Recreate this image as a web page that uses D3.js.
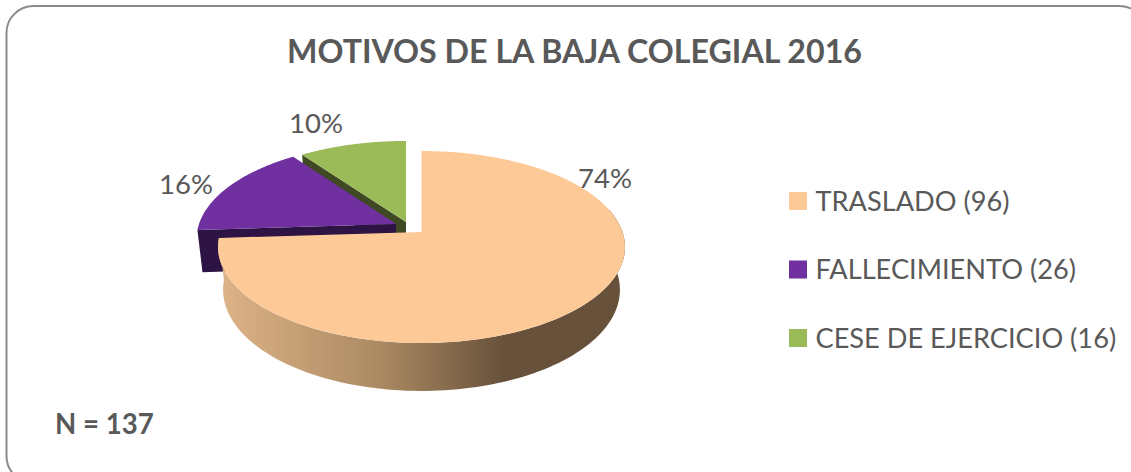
<!DOCTYPE html>
<html><head><meta charset="utf-8">
<script src="https://cdn.jsdelivr.net/npm/d3@7/dist/d3.min.js"></script>
<style>html,body{margin:0;background:#fff;overflow:hidden}svg{display:block}text{font-family:Lato,sans-serif}</style>
</head><body><svg id="c" width="1131" height="472"></svg>
<script>
const categories = ["TRASLADO (96)","FALLECIMIENTO (26)","CESE DE EJERCICIO (16)"];
const percents = [74,16,10];
const percentLabels = ["74%","16%","10%"];
const topColors = ["#fdc997","#7030a0","#9bbb59"];
const wallColors = ["#67513b","#2e1445","#3f4a24"];
const titleText = "MOTIVOS DE LA BAJA COLEGIAL 2016";
const noteText = "N = 137";

const svg = d3.select("#c");
svg.append("rect").attr("x",6.5).attr("y",6).attr("width",1140).attr("height",477).attr("rx",27)
  .attr("fill","#fff").attr("stroke","#8c8c8c").attr("stroke-width",2);

const defs = svg.append("defs");
const grad = defs.append("linearGradient").attr("id","wall").attr("gradientUnits","userSpaceOnUse")
  .attr("x1",225).attr("x2",625).attr("y1",0).attr("y2",0);
[[0,"#dcb287"],[0.4,"#a98861"],[0.7,"#67513b"],[1,"#67513b"]].forEach(s=>
  grad.append("stop").attr("offset",s[0]).attr("stop-color",s[1]));

// perspective pie projection
const k = 0.156;
const layout = [
  {x:421.5,y:232,b:201,a:93.7,bb:196,ba:98.7,depth:42},
  {x:396,y:224,b:197,a:93.7,bb:192,ba:98.7,depth:42},
  {x:406,y:222,b:199,a:93.7,bb:194,ba:98.7,depth:40}
];
const proj = (g,ang,low)=>{
  const u=Math.sin(ang), v=-Math.cos(ang), d=1-k*v;
  return low ? [g.x+g.bb*u/d, g.y+g.depth+g.ba*v/d] : [g.x+g.b*u/d, g.y+g.a*v/d];
};
const arcPts = (g,a0,a1,low)=> d3.range(0,121).map(i=>proj(g,a0+(a1-a0)*i/120,low));
const line = d3.line();
const arcs = d3.pie().sort(null)(percents);

const gPie = svg.append("g");
const drawCut = (i,ang,fill)=>{
  const g=layout[i];
  gPie.append("path").attr("fill",fill).attr("d",line([[g.x,g.y],proj(g,ang,false),proj(g,ang,true),[g.x,g.y+g.depth]])+"Z");
};
const drawTop = i=>{
  const g=layout[i], s=arcs[i];
  gPie.append("path").attr("fill",topColors[i]).attr("d",line([[g.x,g.y],...arcPts(g,s.startAngle,s.endAngle,false)])+"Z");
};
drawCut(2,arcs[2].startAngle,wallColors[2]);
drawTop(2);
drawCut(1,arcs[1].startAngle,wallColors[1]);
drawTop(1);
{
  const g=layout[0], s=arcs[0];
  const a0=Math.PI*0.42, a1=s.endAngle;
  const pts=[...arcPts(g,a0,a1,false),...arcPts(g,a0,a1,true).reverse()];
  gPie.append("path").attr("fill","url(#wall)").attr("d",line(pts)+"Z");
}
drawTop(0);

// labels
const labelPos=[[605,178],[186,184],[316,123]];
svg.selectAll("text.pct").data(percentLabels).join("text").attr("class","pct")
  .attr("x",(d,i)=>labelPos[i][0]).attr("y",(d,i)=>labelPos[i][1]).attr("dy","0.35em")
  .attr("text-anchor","middle").attr("font-size",27.5).attr("fill","#595959").text(d=>d);

svg.append("text").attr("x",574.5).attr("y",52).attr("dy","0.35em").attr("text-anchor","middle")
  .attr("font-size",32.2).attr("font-weight",700).attr("fill","#595959").text(titleText);
svg.append("text").attr("x",55).attr("y",424).attr("dy","0.35em")
  .attr("font-size",27.6).attr("font-weight",700).attr("fill","#595959").text(noteText);

// legend
const legY = d3.scalePoint().domain(categories).range([201,338]);
const leg = svg.selectAll("g.leg").data(categories).join("g").attr("class","leg")
  .attr("transform",d=>`translate(789,${legY(d)})`);
leg.append("rect").attr("x",0).attr("y",-9).attr("width",18).attr("height",18).attr("fill",(d,i)=>topColors[i]);
leg.append("text").attr("x",26.5).attr("dy","0.35em").attr("font-size",27.2).attr("fill","#595959").text(d=>d);
</script></body></html>
